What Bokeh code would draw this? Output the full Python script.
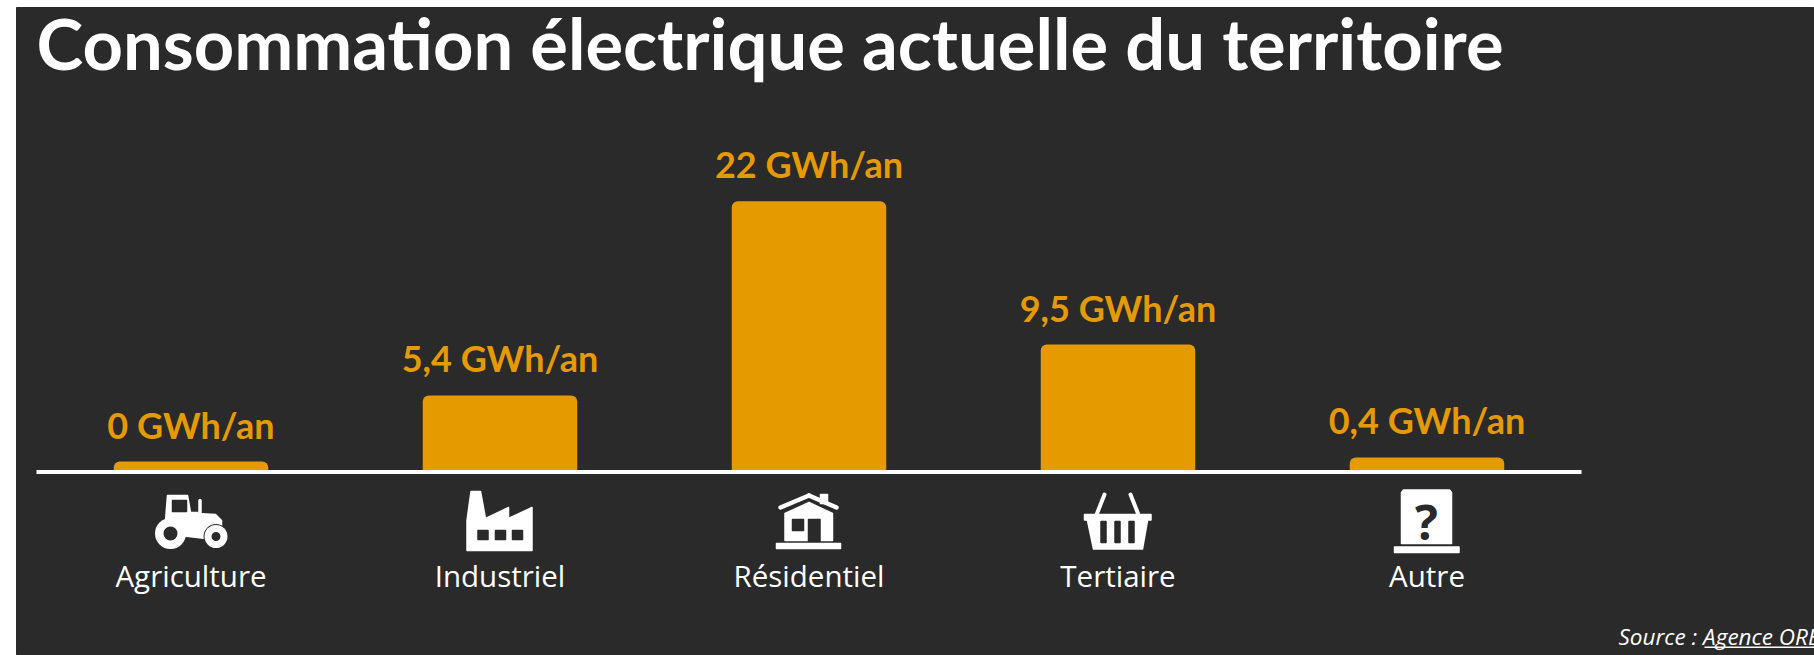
from bokeh.plotting import figure
from bokeh.embed import file_html
from bokeh.resources import INLINE
from bokeh.models import ColumnDataSource, Range1d
from bokeh.core.properties import value

categories = ["Agriculture", "Industriel", "Résidentiel", "Tertiaire", "Autre"]
consumption = [0, 5.4, 22, 9.5, 0.4]
# bar heights as they are drawn in the picture (slightly off the printed figures)
bar_heights = [0, 5.57, 21.97, 9.87, 0.34]
value_labels = ["0 GWh/an", "5,4 GWh/an", "22 GWh/an", "9,5 GWh/an", "0,4 GWh/an"]
title_text = "Consommation électrique actuelle du territoire"
source_text = "Source : Agence ORE"

BG = "#2a2a2a"
ORANGE = "#e59b00"
WHITE = "#ffffff"

# page-pixel layout: the plot frame fills the whole dark panel
PANEL_L, PANEL_T, PANEL_R, PANEL_B = 16, 7, 1814, 655
AXIS_L, AXIS_R = 36, 1581
ZERO_Y = 461
BASE_Y = 470
PX_PER_UNIT = 11.85
N = len(categories)
PX_PER_CAT = (AXIS_R - AXIS_L) / N

floor = -(BASE_Y - ZERO_Y) / PX_PER_UNIT
positions = [i + 0.5 for i in range(N)]
label_y = [(ZERO_Y - 575) / PX_PER_UNIT] * N

p = figure(
    x_range=Range1d((PANEL_L - AXIS_L) / PX_PER_CAT, (PANEL_R - AXIS_L) / PX_PER_CAT),
    y_range=Range1d((ZERO_Y - PANEL_B) / PX_PER_UNIT, (ZERO_Y - PANEL_T) / PX_PER_UNIT),
    width=PANEL_R - PANEL_L, height=PANEL_B - PANEL_T,
    output_backend="svg", toolbar_location=None,
    margin=(PANEL_T, 0, 0, PANEL_L),
    min_border=0,
    background_fill_color=BG, border_fill_color=BG, outline_line_color=BG,
)
p.extra_x_ranges["px"] = Range1d(PANEL_L, PANEL_R)
p.extra_y_ranges["px"] = Range1d(PANEL_B, PANEL_T)
p.title = None
p.axis.visible = False
p.grid.visible = False

src = ColumnDataSource(dict(x=positions, v=consumption, h=bar_heights, lab=value_labels,
                            cat=categories, ly=label_y))
p.vbar(x="x", top="h", bottom=floor, width=0.5, source=src, fill_color=ORANGE,
       line_color=None, border_radius=(6, 6, 0, 0))
p.text(x="x", y="h", text="lab", source=src, text_align="center", text_baseline="alphabetic",
       y_offset=-37, text_color=ORANGE, text_font=value("Lato"), text_font_style="bold",
       text_font_size="36px")


def poly(points, color=WHITE):
    p.patch([q[0] for q in points], [q[1] for q in points], fill_color=color, line_color=color,
            line_width=1.5, line_join="round", x_range_name="px", y_range_name="px")


def rect(x0, y0, x1, y1, color=WHITE):
    poly([(x0, y0), (x1, y0), (x1, y1), (x0, y1)], color)


def disc(x, y, r, color=WHITE):
    p.circle([x], [y], radius=r, fill_color=color, line_color=None, x_range_name="px", y_range_name="px")


def stroke(x0, y0, x1, y1, w=4, cap="round"):
    p.line([x0, x1], [y0, y1], line_color=WHITE, line_width=w, line_cap=cap,
           x_range_name="px", y_range_name="px")


def words(x, y, text, font, style, size, color=WHITE, align="left"):
    p.text([x], [y], text=[text], text_align=align, text_baseline="alphabetic", text_color=color,
           text_font=value(font), text_font_style=style, text_font_size=size,
           x_range_name="px", y_range_name="px")


# base line and category labels
stroke(AXIS_L, BASE_Y + 1.5, AXIS_R, BASE_Y + 1.5, 4, "butt")
p.text(x="x", y="ly", text="cat", source=src,
       text_align="center", text_baseline="alphabetic", text_color=WHITE,
       text_font=value("Open Sans"), text_font_size="29.5px")

# tractor
poly([(167, 495), (187, 495), (190, 512), (197, 512), (197, 513), (215, 514), (221, 520), (221, 526),
      (207, 532), (205, 538), (180, 535), (165, 520)])
rect(172, 500, 186, 511, BG)
stroke(199.5, 500, 199.5, 514, 3.5)
disc(170, 533, 15.5)
disc(170, 533, 7, BG)
disc(215.5, 536, 12.5, BG)
disc(215.5, 536, 11.5)
disc(215.5, 536, 4.5, BG)

# factory
poly([(470.5, 491), (480, 491), (485, 518), (508, 507), (508, 518), (531.5, 507), (531.5, 550),
      (466.5, 550), (466.5, 520)])
for x0 in (477.5, 495, 512):
    rect(x0, 530, x0 + 10, 539, BG)

# house
poly([(784.5, 513), (808.5, 502), (832, 513), (832, 540), (784.5, 540)])
rect(792, 519, 803, 530, BG)
rect(808, 519, 819.5, 541, BG)
rect(820, 494, 827, 503)
stroke(780, 507, 808.5, 495, 4.5)
stroke(808.5, 495, 836, 507, 4.5)
rect(776, 543, 840, 548)

# basket
poly([(1087, 520), (1147, 520), (1142, 548.5), (1093, 548.5)])
rect(1084, 514, 1150.5, 519.5)
for x0 in (1100.5, 1114.5, 1128.5):
    rect(x0, 521, x0 + 5, 542, BG)
stroke(1104, 494, 1096.5, 513)
stroke(1130, 494, 1137.5, 513)

# unknown
poly([(1403, 489.5), (1449, 489.5), (1451, 492), (1451, 543), (1401, 543), (1401, 492)])
rect(1394, 546.5, 1458.5, 552)
words(1426, 521, "?", "Open Sans", "bold", "48px", BG, "center")

# title
words(36, 42, title_text, "Lato", "bold", "70.5px")

# source line (runs off the right edge, as in the reference)
words(1618, 636, source_text, "Open Sans", "italic", "22.5px")
stroke(1704, 646.7, PANEL_R, 646.7, 1.5, "butt")

open("out.html", "w").write(file_html(p, INLINE))
